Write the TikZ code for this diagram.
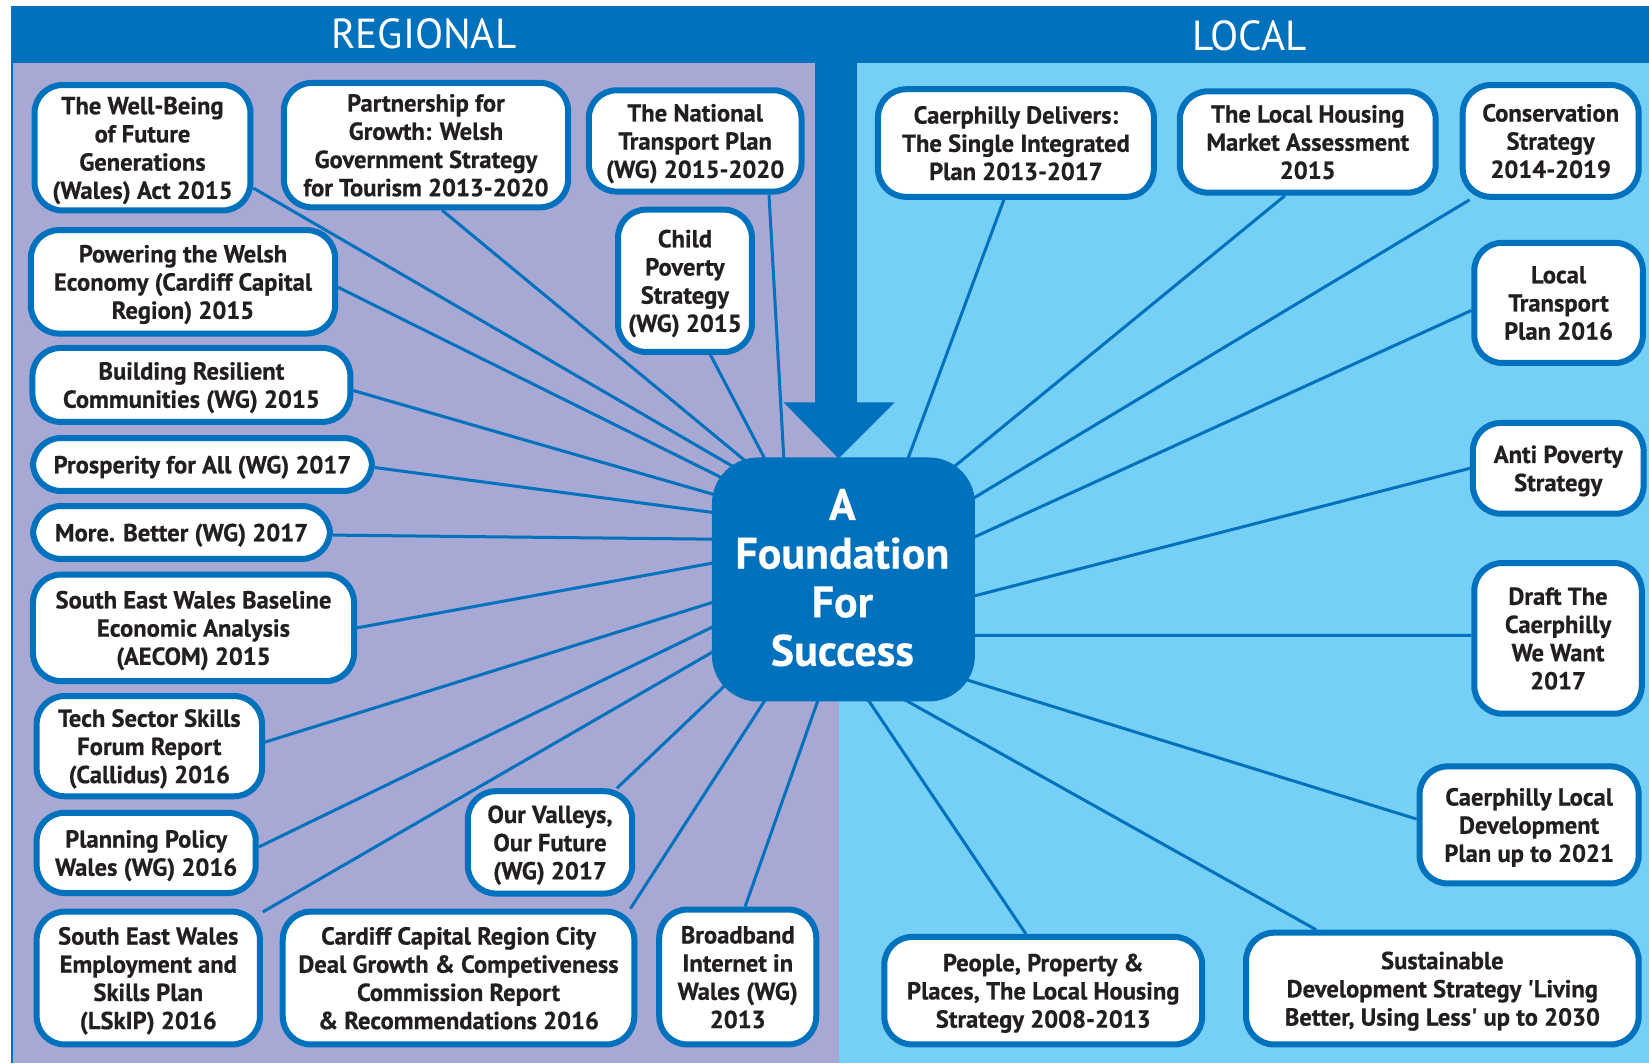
\documentclass[tikz,border=0pt]{standalone}
\usepackage{fontspec}
\newfontfamily\bxfont[BoldFeatures={FakeBold=0.6}]{PT Sans}
\newfontfamily\hdfont[FakeStretch=0.98]{PT Sans}
\newfontfamily\hubfont[BoldFeatures={FakeBold=0.4}]{PT Sans}
\pgfdeclarelayer{back}
\pgfdeclarelayer{mid}
\pgfsetlayers{back,mid,main}
\definecolor{dblue}{RGB}{0,113,188}
\definecolor{purp}{RGB}{167,168,212}
\definecolor{lblue}{RGB}{118,207,245}
\definecolor{txt}{RGB}{35,31,32}
\tikzset{
  box/.style={draw=dblue, line width=3pt, fill=white, rounded corners=14pt, inner sep=0pt,
    align=center, text=txt, text depth=0pt, font=\bxfont\bfseries\fontsize{12.3}{14.1}\selectfont},
  sz/.style 2 args={minimum width={(#1-5.7)*0.52585pt}, minimum height={(#2-5.7)*0.52585pt}},
  link/.style={draw=dblue, line width=1.5pt, shorten >=-12pt},
  hub/.style={fill=dblue, rounded corners=23pt, inner sep=0pt,
    minimum width={250*0.52585pt}, minimum height={232*0.52585pt}},
  hubtext/.style={inner sep=0pt, align=center, text=white, text depth=0pt,
    font=\hubfont\bfseries\fontsize{22}{24.3}\selectfont},
  hdr/.style={text=white, inner sep=0pt, font=\hdfont\fontsize{21}{24}\selectfont},
}
\begin{document}
\begin{tikzpicture}[x=0.52585pt, y=-0.52585pt]
\useasboundingbox (0,0) rectangle (1568,1011);
\begin{pgfonlayer}{back}
  \fill[white] (0,0) rectangle (1568,1011);
  \fill[dblue] (10,5.5) rectangle (1568,1011);
  \fill[purp] (12,60) rectangle (798,1011);
  \fill[lblue] (798,60) rectangle (1568,1011);
  \fill[dblue] (775,59) rectangle (815,383);
  \fill[dblue] (745,382.5) -- (851,382.5) -- (797.5,436) -- cycle;
\end{pgfonlayer}

\node[hdr] (hreg) at (403,32) {REGIONAL};
\node[hdr] (hloc) at (1188,34) {LOCAL};

\node[hub] (c) at (802,551) {};
\node[hubtext] (ct) at (801,549) {A\\Foundation\\For\\Success};

% regional
\node[box, sz={211}{125}] (wb) at (135.5,140.5) {The Well-Being\\of Future\\Generations\\(Wales) Act 2015};
\node[box, sz={276}{124}] (pg) at (405,138) {Partnership for\\Growth: Welsh\\Government Strategy\\for Tourism 2013-2020};
\node[box, sz={208}{102}] (ntp) at (661,134) {The National\\Transport Plan\\(WG) 2015-2020};
\node[box, sz={133}{141}] (cps) at (651.3,267) {Child\\Poverty\\Strategy\\(WG) 2015};
\node[box, sz={295}{104}] (pw) at (174,268) {Powering the Welsh\\Economy (Cardiff Capital\\Region) 2015};
\node[box, sz={308}{76}] (br) at (182,366) {Building Resilient\\Communities (WG) 2015};
\node[box, sz={328}{56}] (pa) at (192.5,441.7) {Prosperity for All (WG) 2017};
\node[box, sz={288}{56}] (mb) at (172.6,506.3) {More. Better (WG) 2017};
\node[box, sz={311}{107}] (seb) at (184,597) {South East Wales Baseline\\Economic Analysis\\(AECOM) 2015};
\node[box, sz={220}{101}] (ts) at (142,709.5) {Tech Sector Skills\\Forum Report\\(Callidus) 2016};
\node[box, sz={214}{82}] (pp) at (139,811) {Planning Policy\\Wales (WG) 2016};
\node[box, sz={162}{103}] (ov) at (523,801) {Our Valleys,\\Our Future\\(WG) 2017};
\node[box, sz={218}{132}] (see) at (141,930) {South East Wales\\Employment and\\Skills Plan\\(LSkIP) 2016};
\node[box, sz={340}{132}] (ccr) at (436,930) {Cardiff Capital Region City\\Deal Growth \& Competiveness\\Commission Report\\\& Recommendations 2016};
\node[box, sz={155}{134}] (bb) at (701.5,929) {Broadband\\Internet in\\Wales (WG)\\2013};

% local
\node[box, sz={268}{108}] (cd) at (966,136) {Caerphilly Delivers:\\The Single Integrated\\Plan 2013-2017};
\node[box, sz={249}{102}] (lh) at (1243.5,135) {The Local Housing\\Market Assessment\\2015};
\node[box, sz={173}{112}] (cs) at (1474.5,134) {Conservation\\Strategy\\2014-2019};
\node[box, sz={166}{120}] (lt) at (1482,288) {Local\\Transport\\Plan 2016};
\node[box, sz={168}{92}] (ap) at (1481.7,445.3) {Anti Poverty\\Strategy};
\node[box, sz={165}{149}] (dr) at (1481.5,607) {Draft The\\Caerphilly\\We Want\\2017};
\node[box, sz={214}{117}] (ldp) at (1454,784.4) {Caerphilly Local\\Development\\Plan up to 2021};
\node[box, sz={308}{108}] (ppl) at (992,942) {People, Property \&\\Places, The Local Housing\\Strategy 2008-2013};
\node[box, sz={379}{112}] (sd) at (1371.5,940) {Sustainable\\Development Strategy 'Living\\Better, Using Less' up to 2030};

\begin{pgfonlayer}{mid}
  \draw[link] (wb.-20.5) -- (c.136.5);
  \draw[link] (pg.-76.4) -- (c.130.3);
  \draw[link] (ntp.-36.9) -- (c.116.6);
  \draw[link] (cps.-71.4) -- (c.123.4);
  \draw[link] (pw.-2.3) -- (c.141.5);
  \draw[link] (br.-2.6) -- (c.147.7);
  \draw[link] (pa.-1.2) -- (c.153.3);
  \draw[link] (mb.-1) -- (c.163.9);
  \draw[link] (seb.0.4) -- (c.173.6);
  \draw[link] (ts.2.3) -- (c.190.9);
  \draw[link] (pp.3.2) -- (c.200.6);
  \draw[link] (see.30.5) -- (c.209.9);
  \draw[link] (ov.39.7) -- (c.222.9);
  \draw[link] (ccr.22.3) -- (c.237.3);
  \draw[link] (bb.84.4) -- (c.258.3);
  \draw[link] (cd.258.5) -- (c.62.6);
  \draw[link] (lh.247.1) -- (c.45.3);
  \draw[link] (cs.216) -- (c.32.3);
  \draw[link] (lt.185.8) -- (c.18.2);
  \draw[link] (ap.180) -- (c.-7.3);
  \draw[link] (dr.178.9) -- (c.-23.5);
  \draw[link] (ldp.177.5) -- (c.-38.6);
  \draw[link] (ppl.107.5) -- (c.-78.8);
  \draw[link] (sd.155.3) -- (c.-62.6);
\end{pgfonlayer}
\end{tikzpicture}
\end{document}
